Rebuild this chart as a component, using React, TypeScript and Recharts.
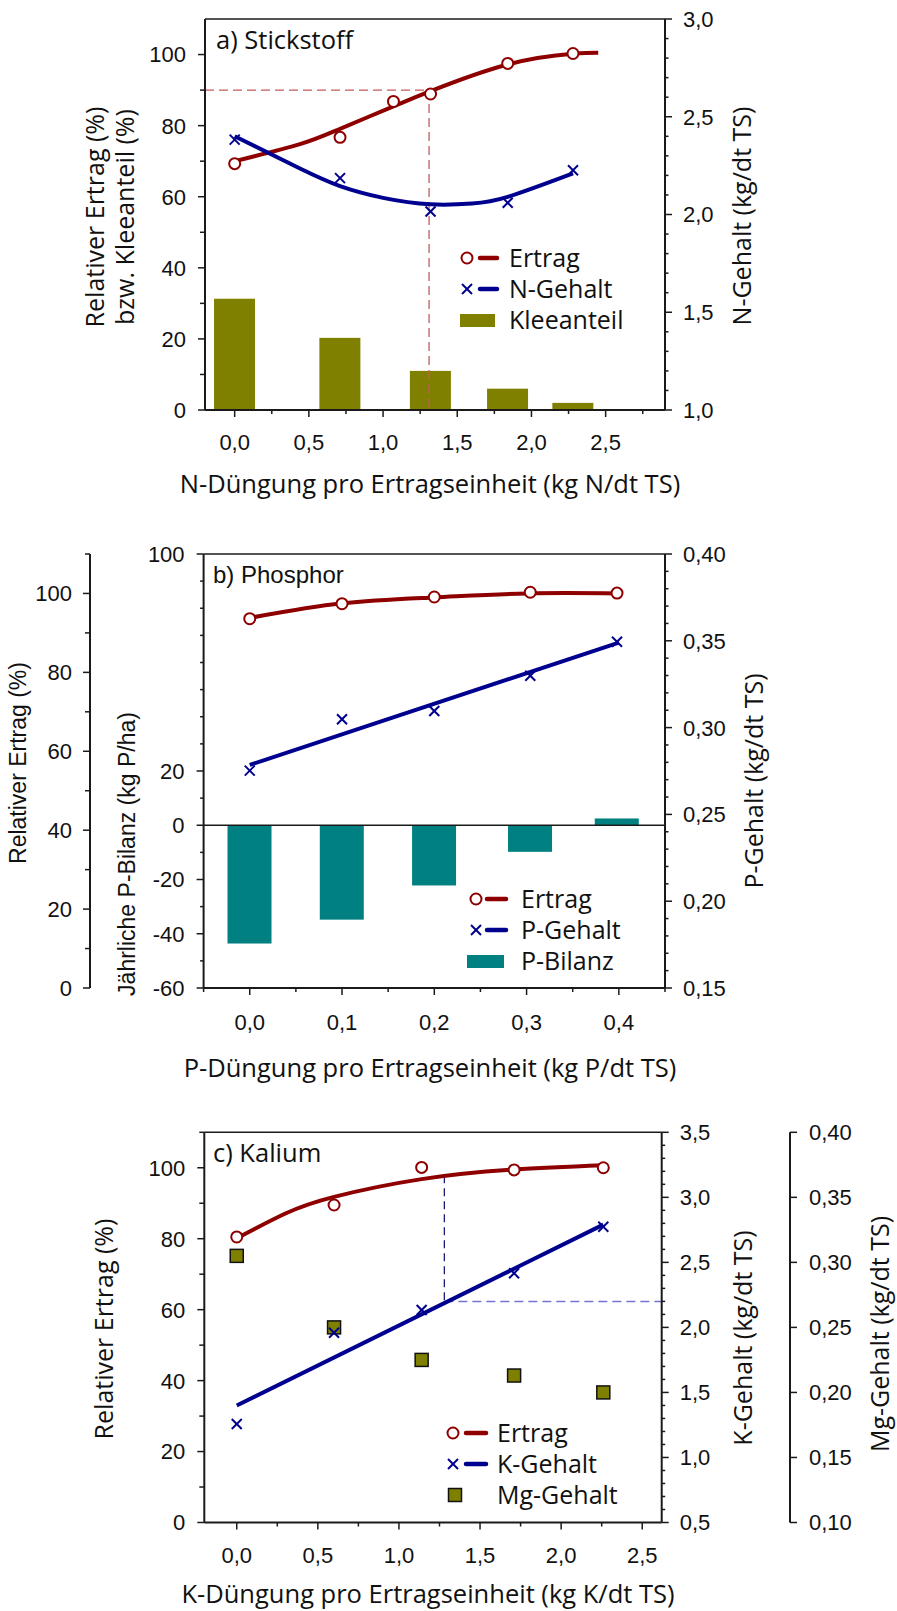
import React from 'react';
import { ComposedChart, XAxis, YAxis, Bar, Line, Scatter, ReferenceLine, Legend } from 'recharts';

// Schriften und Farben
const SANS = '"Open Sans", "Noto Sans", sans-serif';
const ARIAL = '"Liberation Sans", Arial, sans-serif';
const INK = '#111111';
const AXIS = '#1a1a1a';
const RED = '#8e0000';
const BLUE = '#00008f';
const OLIVE = '#808000';
const TEAL = '#008080';

// a) Stickstoff
const nX = [0, 0.71, 1.32, 1.84, 2.28];
const nKlee = [31.3, 20.3, 11, 6, 2];
const nGehalt = [2.383, 2.186, 2.015, 2.06, 2.226];
const nErtragX = [0, 0.71, 1.07, 1.32, 1.84, 2.28];
const nErtrag = [69.3, 76.7, 86.8, 88.9, 97.5, 100.3];
const nErtragFitX = [0, 0.44, 0.71, 1.07, 1.32, 1.84, 2.28, 2.45];
const nErtragFit = [70.0, 74.8, 79.1, 85.4, 89.7, 97.2, 100.2, 100.5];
const nGehaltFitX = [0, 0.44, 0.71, 1.0, 1.32, 1.6, 1.84, 2.28];
const nGehaltFit = [2.4, 2.235, 2.145, 2.085, 2.052, 2.056, 2.09, 2.21];
const nOptX = 1.31;
const nOptErtrag = 90;

// b) Phosphor
const pX = [0, 0.1, 0.2, 0.304, 0.398];
const pBilanz = [-43.6, -34.8, -22.2, -9.8, 2.5];
const pErtrag = [93.6, 97.4, 99.1, 100.3, 100.1];
const pGehalt = [0.2752, 0.3048, 0.3096, 0.3299, 0.3495];
const pErtragFitX = [0, 0.1, 0.2, 0.3, 0.4];
const pErtragFit = [93.8, 97.5, 99.0, 100.0, 100.0];
const pGehaltFitX = [0, 0.4];
const pGehaltFit = [0.2785, 0.349];
const pBilanzTicks = [-60, -40, -20, 0, 20, 100];

// c) Kalium
const kX = [0, 0.6, 1.14, 1.71, 2.26];
const kErtrag = [80.5, 89.5, 100.1, 99.4, 100.0];
const kGehalt = [1.257, 1.959, 2.134, 2.416, 2.774];
const kMg = [0.305, 0.25, 0.225, 0.213, 0.2];
const kErtragFitX = [0, 0.3, 0.6, 1.14, 1.71, 2.26];
const kErtragFit = [80.1, 87.1, 91.8, 96.8, 99.5, 100.7];
const kGehaltFitX = [0, 2.26];
const kGehaltFit = [1.4, 2.79];
const kOptX = 1.28;
const kOptErtrag = 97.9;
const kOptGehalt = 2.2;

const REL_DOM: [number, number] = [0, 110];
const K_DOM: [number, number] = [0.5, 3.5];

const pts = (xs: number[], ys: number[]) => xs.map((x, i) => ({ x, y: ys[i] }));

const range = (a: number, b: number, s: number) => {
  const out: number[] = [];
  for (let i = 0; a + i * s <= b + 1e-9; i++) out.push(Math.round((a + i * s) * 10000) / 10000);
  return out;
};
const onStep = (v: number, s: number) => Math.abs(v / s - Math.round(v / s)) < 1e-6;
const de = (v: number, d: number) => v.toFixed(d).replace('.', ',');

type TickOpt = {
  side: 'left' | 'right' | 'bottom';
  major: (v: number) => boolean;
  digits: number;
  gap: number;
  minor?: number;
};

// eigene Ticks: lange mit Beschriftung, kurze ohne
const makeTick = (o: TickOpt) => (p: any) => {
  const { x, y, payload } = p;
  const v = payload.value;
  const big = o.major(v);
  const len = big ? 7 : o.minor ?? 4;
  const txt = de(v, o.digits);
  const font = { fontFamily: ARIAL, fontSize: 22, fill: INK };
  if (o.side === 'left') {
    return (
      <g>
        <line x1={x} y1={y} x2={x - len} y2={y} stroke={AXIS} strokeWidth={1.5} />
        {big && <text x={x - o.gap} y={y} dy="0.36em" textAnchor="end" {...font}>{txt}</text>}
      </g>
    );
  }
  if (o.side === 'right') {
    return (
      <g>
        <line x1={x} y1={y} x2={x + len} y2={y} stroke={AXIS} strokeWidth={1.5} />
        {big && <text x={x + o.gap} y={y} dy="0.36em" textAnchor="start" {...font}>{txt}</text>}
      </g>
    );
  }
  return (
    <g>
      <line x1={x} y1={y} x2={x} y2={y + len} stroke={AXIS} strokeWidth={1.5} />
      {big && <text x={x} y={y + o.gap} textAnchor="middle" {...font}>{txt}</text>}
    </g>
  );
};

const VText = ({ x, y, text, font = SANS, size = 25 }: { x: number; y: number; text: string; font?: string; size?: number }) => (
  <text x={x} y={y} transform={`rotate(-90 ${x} ${y})`} textAnchor="middle" fontFamily={font} fontSize={size} fill={INK}>
    {text}
  </text>
);

const HText = ({ x, y, text, font = SANS, size = 25.5, anchor = 'middle' }: { x: number; y: number; text: string; font?: string; size?: number; anchor?: string }) => (
  <text x={x} y={y} textAnchor={anchor as any} fontFamily={font} fontSize={size} fill={INK}>
    {text}
  </text>
);

const ring = (p: any) => <circle cx={p.cx} cy={p.cy} r={5.5} fill="#fff" stroke={RED} strokeWidth={2} />;
const cross = (p: any) => (
  <g stroke={BLUE} strokeWidth={2}>
    <line x1={p.cx - 5} y1={p.cy - 5} x2={p.cx + 5} y2={p.cy + 5} />
    <line x1={p.cx - 5} y1={p.cy + 5} x2={p.cx + 5} y2={p.cy - 5} />
  </g>
);
const square = (p: any) => (
  <rect x={p.cx - 6.5} y={p.cy - 6.5} width={13} height={13} fill={OLIVE} stroke="#111" strokeWidth={1.5} />
);

// Balken mittig um den x-Wert, feste Breite
const barShape = (w: number, fill: string) => (p: any) => {
  const cx = p.x + p.width / 2;
  const top = Math.min(p.y, p.y + p.height);
  return <rect x={cx - w / 2} y={top} width={w} height={Math.abs(p.height)} fill={fill} />;
};

type LegendItem = { kind: 'ring' | 'cross' | 'bar' | 'square'; color: string; label: string };

const LegendBox = ({ items, line, textX }: { items: LegendItem[]; line: [number, number]; textX: number }) => (
  <svg width={240} height={items.length * 31 + 6} style={{ display: 'block', overflow: 'visible' }}>
    {items.map((it, i) => {
      const cy = 15 + i * 31;
      return (
        <g key={it.label}>
          {it.kind === 'ring' && ring({ cx: 10, cy })}
          {it.kind === 'cross' && cross({ cx: 10, cy })}
          {(it.kind === 'ring' || it.kind === 'cross') && (
            <line x1={line[0]} y1={cy} x2={line[1]} y2={cy} stroke={it.color} strokeWidth={4.5} strokeLinecap="round" />
          )}
          {it.kind === 'bar' && <rect x={line[0] - 20} y={cy - 6} width={line[1] - line[0] + 18} height={13} fill={it.color} />}
          {it.kind === 'square' && square({ cx: 12, cy })}
          <text x={textX} y={cy + 9} fontFamily={SANS} fontSize={25} fill={INK}>
            {it.label}
          </text>
        </g>
      );
    })}
  </svg>
);

const axisLine = { stroke: AXIS, strokeWidth: 2 };
const tickCommon = { tickSize: 0, tickMargin: 0, tickLine: false, interval: 0 as const, axisLine, allowDataOverflow: true };

const PanelA = () => {
  const bars = nX.map((x, i) => ({ x, k: nKlee[i] }));
  return (
    <ComposedChart width={897} height={510} data={bars} margin={{ top: 19, right: 0, bottom: 0, left: 0 }}>
      <XAxis
        dataKey="x"
        type="number"
        domain={[-0.2, 2.9]}
        ticks={range(0, 2.75, 0.25)}
        height={100}
        tick={makeTick({ side: 'bottom', major: (v) => onStep(v, 0.5), digits: 1, gap: 40 })}
        label={{ content: () => <HText x={430} y={493} text="N-Düngung pro Ertragseinheit (kg N/dt TS)" /> }}
        {...tickCommon}
      />
      <YAxis
        yAxisId="rel"
        type="number"
        domain={REL_DOM}
        ticks={range(0, 100, 10)}
        width={205}
        tick={makeTick({ side: 'left', major: (v) => onStep(v, 20), digits: 0, gap: 19, minor: 5 })}
        label={{
          content: () => (
            <g>
              <VText x={104} y={217} text="Relativer Ertrag (%)" />
              <VText x={134} y={217} text="bzw. Kleeanteil (%)" />
            </g>
          ),
        }}
        {...tickCommon}
      />
      <YAxis
        yAxisId="n"
        orientation="right"
        type="number"
        domain={[1, 3]}
        ticks={range(1, 3, 0.1)}
        width={232}
        tick={makeTick({ side: 'right', major: (v) => onStep(v, 0.5), digits: 1, gap: 18, minor: 3.5 })}
        label={{ content: () => <VText x={751} y={216} text="N-Gehalt (kg/dt TS)" /> }}
        {...tickCommon}
      />
      <ReferenceLine
        yAxisId="rel"
        y={110}
        stroke={AXIS}
        strokeWidth={1.5}
        label={{ content: () => <HText x={216} y={49} text="a) Stickstoff" anchor="start" /> }}
      />
      <Bar yAxisId="rel" dataKey="k" fill={OLIVE} shape={barShape(41, OLIVE)} isAnimationActive={false} />
      <ReferenceLine
        yAxisId="rel"
        segment={[{ x: -0.2, y: nOptErtrag }, { x: nOptX, y: nOptErtrag }]}
        stroke="#c25b5b"
        strokeWidth={1.3}
        strokeDasharray="9 5"
      />
      <ReferenceLine
        yAxisId="rel"
        segment={[{ x: nOptX, y: nOptErtrag }, { x: nOptX, y: 0 }]}
        stroke="#c25b5b"
        strokeWidth={1.3}
        strokeDasharray="9 5"
      />
      <Line yAxisId="rel" data={pts(nErtragFitX, nErtragFit)} dataKey="y" type="natural" stroke={RED} strokeWidth={4} dot={false} isAnimationActive={false} />
      <Line yAxisId="n" data={pts(nGehaltFitX, nGehaltFit)} dataKey="y" type="natural" stroke={BLUE} strokeWidth={4} dot={false} isAnimationActive={false} />
      <Scatter yAxisId="rel" data={pts(nErtragX, nErtrag)} dataKey="y" shape={ring} isAnimationActive={false} />
      <Scatter yAxisId="n" data={pts(nX, nGehalt)} dataKey="y" shape={cross} isAnimationActive={false} />
      <Legend
        layout="vertical"
        align="center"
        verticalAlign="middle"
        wrapperStyle={{ left: 457, top: 243, width: 240 }}
        content={() => (
          <LegendBox
            line={[23, 40]}
            textX={52}
            items={[
              { kind: 'ring', color: RED, label: 'Ertrag' },
              { kind: 'cross', color: BLUE, label: 'N-Gehalt' },
              { kind: 'bar', color: OLIVE, label: 'Kleeanteil' },
            ]}
          />
        )}
      />
    </ComposedChart>
  );
};

const PanelB = () => {
  const bars = pX.map((x, i) => ({ x, b: pBilanz[i] }));
  return (
    <ComposedChart width={897} height={580} data={bars} margin={{ top: 44, right: 0, bottom: 0, left: 0 }}>
      <XAxis
        dataKey="x"
        type="number"
        domain={[-0.05, 0.45]}
        ticks={range(-0.05, 0.45, 0.05)}
        height={102}
        tick={makeTick({ side: 'bottom', major: (v) => onStep(v, 0.1), digits: 1, gap: 42 })}
        label={{ content: () => <HText x={430} y={567} text="P-Düngung pro Ertragseinheit (kg P/dt TS)" /> }}
        {...tickCommon}
      />
      <YAxis
        yAxisId="bil"
        type="number"
        domain={[-60, 100]}
        ticks={range(-60, 100, 10)}
        width={113.6}
        tick={makeTick({ side: 'left', major: (v) => pBilanzTicks.includes(v), digits: 0, gap: 19, minor: 3.5 })}
        label={{ content: () => <VText x={135} y={344} text="Jährliche P-Bilanz (kg P/ha)" font={ARIAL} size={23} /> }}
        {...tickCommon}
      />
      <YAxis
        yAxisId="rel"
        type="number"
        domain={REL_DOM}
        ticks={range(0, 110, 10)}
        width={90}
        tick={makeTick({ side: 'left', major: (v) => onStep(v, 20), digits: 0, gap: 18, minor: 5 })}
        label={{ content: () => <VText x={26} y={253} text="Relativer Ertrag (%)" font={ARIAL} size={23} /> }}
        {...tickCommon}
      />
      <YAxis
        yAxisId="p"
        orientation="right"
        type="number"
        domain={[0.15, 0.4]}
        ticks={range(0.15, 0.4, 0.01)}
        width={232}
        tick={makeTick({ side: 'right', major: (v) => onStep(v, 0.05), digits: 2, gap: 18, minor: 3.5 })}
        label={{ content: () => <VText x={763} y={271} text="P-Gehalt (kg/dt TS)" /> }}
        {...tickCommon}
      />
      <ReferenceLine
        yAxisId="bil"
        y={100}
        stroke={AXIS}
        strokeWidth={1.5}
        label={{ content: () => <HText x={213} y={73} text="b) Phosphor" font={ARIAL} size={24} anchor="start" /> }}
      />
      <Bar yAxisId="bil" dataKey="b" fill={TEAL} shape={barShape(44, TEAL)} isAnimationActive={false} />
      <ReferenceLine yAxisId="bil" y={0} stroke={AXIS} strokeWidth={1.5} />
      <Line yAxisId="rel" data={pts(pErtragFitX, pErtragFit)} dataKey="y" type="natural" stroke={RED} strokeWidth={4} dot={false} isAnimationActive={false} />
      <Line yAxisId="p" data={pts(pGehaltFitX, pGehaltFit)} dataKey="y" type="linear" stroke={BLUE} strokeWidth={4} dot={false} isAnimationActive={false} />
      <Scatter yAxisId="rel" data={pts(pX, pErtrag)} dataKey="y" shape={ring} isAnimationActive={false} />
      <Scatter yAxisId="p" data={pts(pX, pGehalt)} dataKey="y" shape={cross} isAnimationActive={false} />
      <Legend
        layout="vertical"
        align="center"
        verticalAlign="middle"
        wrapperStyle={{ left: 466, top: 374, width: 240 }}
        content={() => (
          <LegendBox
            line={[21, 40]}
            textX={55}
            items={[
              { kind: 'ring', color: RED, label: 'Ertrag' },
              { kind: 'cross', color: BLUE, label: 'P-Gehalt' },
              { kind: 'bar', color: TEAL, label: 'P-Bilanz' },
            ]}
          />
        )}
      />
    </ComposedChart>
  );
};

const PanelC = () => {
  // K-Gehalt 2,2 auf der Ertragsachse (beide Achsen teilen die Höhe)
  const kOnRel = ((kOptGehalt - K_DOM[0]) / (K_DOM[1] - K_DOM[0])) * (REL_DOM[1] - REL_DOM[0]);
  return (
    <ComposedChart width={897} height={521} margin={{ top: 42.3, right: 0, bottom: 0, left: 0 }}>
      <XAxis
        dataKey="x"
        type="number"
        domain={[-0.2, 2.62]}
        ticks={range(0, 2.5, 0.25)}
        height={88.5}
        tick={makeTick({ side: 'bottom', major: (v) => onStep(v, 0.5), digits: 1, gap: 40 })}
        label={{ content: () => <HText x={428} y={513} text="K-Düngung pro Ertragseinheit (kg K/dt TS)" /> }}
        {...tickCommon}
      />
      <YAxis
        yAxisId="rel"
        type="number"
        domain={REL_DOM}
        ticks={range(0, 110, 10)}
        width={204.3}
        tick={makeTick({ side: 'left', major: (v) => onStep(v, 20) && v <= 100, digits: 0, gap: 19, minor: 5 })}
        label={{ content: () => <VText x={113} y={239} text="Relativer Ertrag (%)" /> }}
        {...tickCommon}
      />
      <YAxis
        yAxisId="k"
        orientation="right"
        type="number"
        domain={K_DOM}
        ticks={range(0.5, 3.5, 0.1)}
        width={128.3}
        tick={makeTick({ side: 'right', major: (v) => onStep(v, 0.5), digits: 1, gap: 18, minor: 3.5 })}
        label={{ content: () => <VText x={752} y={248} text="K-Gehalt (kg/dt TS)" /> }}
        {...tickCommon}
      />
      <YAxis
        yAxisId="mg"
        orientation="right"
        type="number"
        domain={[0.1, 0.4]}
        ticks={range(0.1, 0.4, 0.05)}
        width={107}
        tick={makeTick({ side: 'right', major: () => true, digits: 2, gap: 19 })}
        label={{ content: () => <VText x={889} y={244} text="Mg-Gehalt (kg/dt TS)" /> }}
        {...tickCommon}
      />
      <ReferenceLine
        yAxisId="rel"
        y={110}
        stroke={AXIS}
        strokeWidth={1.5}
        label={{ content: () => <HText x={213} y={72} text="c) Kalium" anchor="start" /> }}
      />
      <ReferenceLine
        yAxisId="rel"
        segment={[{ x: kOptX, y: kOptErtrag }, { x: kOptX, y: kOnRel }]}
        stroke="#1c1c7a"
        strokeWidth={1.3}
        strokeDasharray="8 5"
      />
      <ReferenceLine
        yAxisId="k"
        segment={[{ x: kOptX, y: kOptGehalt }, { x: 2.62, y: kOptGehalt }]}
        stroke="#7474d2"
        strokeWidth={1.5}
        strokeDasharray="9 5"
      />
      <Line yAxisId="rel" data={pts(kErtragFitX, kErtragFit)} dataKey="y" type="natural" stroke={RED} strokeWidth={4} dot={false} isAnimationActive={false} />
      <Line yAxisId="k" data={pts(kGehaltFitX, kGehaltFit)} dataKey="y" type="linear" stroke={BLUE} strokeWidth={4} dot={false} isAnimationActive={false} />
      <Scatter yAxisId="mg" data={pts(kX, kMg)} dataKey="y" shape={square} isAnimationActive={false} />
      <Scatter yAxisId="rel" data={pts(kX, kErtrag)} dataKey="y" shape={ring} isAnimationActive={false} />
      <Scatter yAxisId="k" data={pts(kX, kGehalt)} dataKey="y" shape={cross} isAnimationActive={false} />
      <Legend
        layout="vertical"
        align="center"
        verticalAlign="middle"
        wrapperStyle={{ left: 443, top: 328, width: 240 }}
        content={() => (
          <LegendBox
            line={[23, 43]}
            textX={54}
            items={[
              { kind: 'ring', color: RED, label: 'Ertrag' },
              { kind: 'cross', color: BLUE, label: 'K-Gehalt' },
              { kind: 'square', color: OLIVE, label: 'Mg-Gehalt' },
            ]}
          />
        )}
      />
    </ComposedChart>
  );
};

export default function App() {
  return (
    <div style={{ position: 'absolute', left: 0, top: 0, width: 897, height: 1611, background: '#fff' }}>
      <div style={{ position: 'absolute', left: 0, top: 0 }}>
        <PanelA />
      </div>
      <div style={{ position: 'absolute', left: 0, top: 510 }}>
        <PanelB />
      </div>
      <div style={{ position: 'absolute', left: 0, top: 1090 }}>
        <PanelC />
      </div>
    </div>
  );
}
